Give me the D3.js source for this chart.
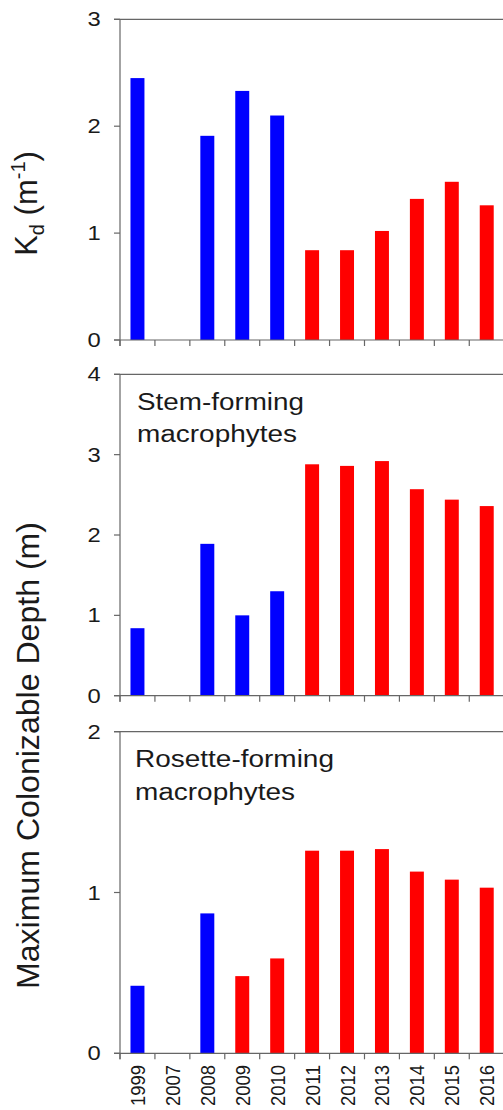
<!DOCTYPE html>
<html>
<head>
<meta charset="utf-8">
<script src="https://cdn.jsdelivr.net/npm/d3@7"></script>
<style>
  html, body { margin: 0; padding: 0; background: #fff; }
  svg { display: block; font-family: "Liberation Sans", Arial, Helvetica, sans-serif; }
</style>
</head>
<body>
<script>
// Years sampled (2007 has no measurement)
const years = ["1999", "2007", "2008", "2009", "2010", "2011", "2012", "2013", "2014", "2015", "2016"];

// Light attenuation coefficient Kd (m^-1)
const kdValues = [2.45, null, 1.91, 2.33, 2.10, 0.84, 0.84, 1.02, 1.32, 1.48, 1.26];
// Maximum colonizable depth (m), stem-forming macrophytes
const stemValues = [0.84, null, 1.89, 1.00, 1.30, 2.88, 2.86, 2.92, 2.57, 2.44, 2.36];
// Maximum colonizable depth (m), rosette-forming macrophytes
const rosetteValues = [0.42, null, 0.87, 0.48, 0.59, 1.26, 1.26, 1.27, 1.13, 1.08, 1.03];

// Bar colour group for each year (0 = blue, 1 = red)
const kdGroups = [0, 0, 0, 0, 0, 1, 1, 1, 1, 1, 1];
const stemGroups = [0, 0, 0, 0, 0, 1, 1, 1, 1, 1, 1];
const rosetteGroups = [0, 0, 0, 1, 1, 1, 1, 1, 1, 1, 1];

const kdTicks = [0, 1, 2, 3];
const stemTicks = [0, 1, 2, 3, 4];
const rosetteTicks = [0, 1, 2];

const W = 503, H = 1110;
const axisColor = "#666";
const textColor = "#1a1a1a";
const groupColors = ["#0000ff", "#ff0000"];

const svg = d3.select("body").append("svg")
  .attr("width", W).attr("height", H);

const x = d3.scaleBand()
  .domain(years)
  .range([120, 504.2])
  .paddingInner(0.6)
  .paddingOuter(0.3);

const step = x.step();
const xLeft = x.range()[0], xRight = x.range()[1];

function panel(values, groups, ticks, yBottom, yTop, label) {
  const y = d3.scaleLinear()
    .domain([0, d3.max(ticks)])
    .range([yBottom, yTop]);

  const g = svg.append("g");

  // bars
  g.selectAll("rect.bar")
    .data(years.map((yr, i) => ({ yr, v: values[i], grp: groups[i] })).filter(d => d.v != null))
    .join("rect")
    .attr("class", "bar")
    .attr("x", d => x(d.yr))
    .attr("width", x.bandwidth())
    .attr("y", d => y(d.v))
    .attr("height", d => y(0) - y(d.v))
    .attr("fill", d => groupColors[d.grp]);

  // frame: left axis, top, bottom and right lines
  const frame = g.append("g")
    .attr("stroke", axisColor)
    .attr("stroke-width", 1.2)
    .attr("fill", "none");
  frame.append("line")
    .attr("x1", xLeft).attr("x2", xLeft)
    .attr("y1", y(d3.max(ticks))).attr("y2", y(0) + 6);
  frame.append("line")
    .attr("x1", xLeft - 6).attr("x2", xRight)
    .attr("y1", y(d3.max(ticks))).attr("y2", y(d3.max(ticks)));
  frame.append("line")
    .attr("x1", xLeft - 6).attr("x2", xRight)
    .attr("y1", y(0)).attr("y2", y(0));
  frame.append("line")
    .attr("x1", xRight).attr("x2", xRight)
    .attr("y1", y(d3.max(ticks))).attr("y2", y(0));

  // y ticks
  frame.selectAll("line.ytick")
    .data(ticks)
    .join("line")
    .attr("class", "ytick")
    .attr("x1", xLeft - 6).attr("x2", xLeft)
    .attr("y1", d => y(d)).attr("y2", d => y(d));

  // x ticks at category boundaries
  frame.selectAll("line.xtick")
    .data(d3.range(years.length + 1))
    .join("line")
    .attr("class", "xtick")
    .attr("x1", i => xLeft + i * step).attr("x2", i => xLeft + i * step)
    .attr("y1", y(0)).attr("y2", y(0) + 6);

  // y tick labels
  g.selectAll("text.ylab")
    .data(ticks)
    .join("text")
    .attr("class", "ylab")
    .attr("transform", d => `translate(${100.8},${y(d)}) scale(1.22,1)`)
    .attr("dy", "0.36em")
    .attr("text-anchor", "end")
    .attr("font-size", 19.5)
    .attr("fill", textColor)
    .text(d => d);

  // in-panel label
  if (label) {
    const t = g.append("text")
      .attr("font-size", 23.5)
      .attr("fill", textColor);
    label.lines.forEach((ln, i) => {
      t.append("tspan")
        .attr("x", label.x)
        .attr("y", label.baselines[i])
        .attr("textLength", label.lengths[i])
        .attr("lengthAdjust", "spacingAndGlyphs")
        .text(ln);
    });
  }
  return y;
}

panel(kdValues, kdGroups, kdTicks, 340, 19.3, null);
panel(stemValues, stemGroups, stemTicks, 695.7, 374.3,
  { x: 137, baselines: [410, 442], lines: ["Stem-forming", "macrophytes"], lengths: [167, 160] });
panel(rosetteValues, rosetteGroups, rosetteTicks, 1053.3, 731.7,
  { x: 135, baselines: [767, 800], lines: ["Rosette-forming", "macrophytes"], lengths: [199, 160] });

// year labels under the bottom panel
svg.selectAll("text.year")
  .data(years)
  .join("text")
  .attr("class", "year")
  .attr("transform", d => `translate(${x(d) + x.bandwidth() / 2 + 7.5},${1065}) rotate(-90)`)
  .attr("text-anchor", "end")
  .attr("font-size", 20.5)
  .attr("textLength", 41)
  .attr("lengthAdjust", "spacingAndGlyphs")
  .attr("fill", textColor)
  .text(d => d);

// y axis titles
const kdTitle = svg.append("text")
  .attr("transform", `translate(37,203.5) rotate(-90)`)
  .attr("text-anchor", "middle")
  .attr("font-size", 31)
  .attr("fill", textColor);
kdTitle.append("tspan").text("K");
kdTitle.append("tspan").attr("font-size", 20).attr("dy", 7).text("d");
kdTitle.append("tspan").attr("dy", -7).text(" (m");
kdTitle.append("tspan").attr("font-size", 20).attr("dy", -12).text("-1");
kdTitle.append("tspan").attr("dy", 12).text(")");

svg.append("text")
  .attr("transform", `translate(38.5,755.5) rotate(-90)`)
  .attr("text-anchor", "middle")
  .attr("font-size", 31.5)
  .attr("textLength", 467)
  .attr("lengthAdjust", "spacingAndGlyphs")
  .attr("fill", textColor)
  .text("Maximum Colonizable Depth (m)");
</script>
</body>
</html>
